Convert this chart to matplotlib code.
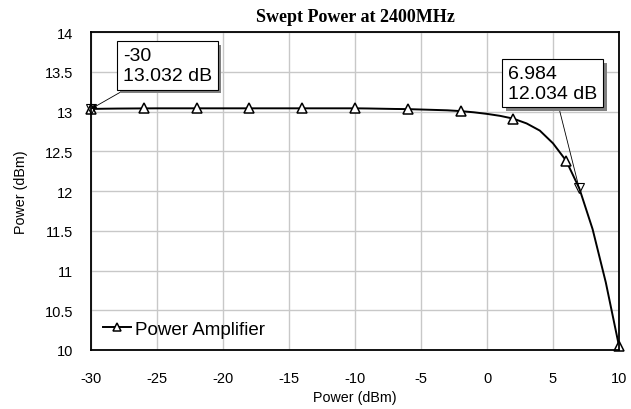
import matplotlib
matplotlib.use("Agg")
import matplotlib.pyplot as plt
import matplotlib.patheffects as pe

# curve samples (dBm input -> dBm output)
pin = [-30, -29, -28, -27, -26, -25, -24, -23, -22, -21, -20, -19, -18, -17, -16,
       -15, -14, -13, -12, -11, -10, -9, -8, -7, -6, -5, -4, -3, -2, -1,
       0, 1, 2, 3, 4, 5, 6, 7, 8, 9, 10]
pout = [13.032, 13.035, 13.037, 13.038, 13.039, 13.04, 13.04, 13.04, 13.04, 13.04, 13.04,
        13.04, 13.04, 13.04, 13.04, 13.04, 13.04, 13.04, 13.04, 13.04, 13.04, 13.038,
        13.035, 13.032, 13.03, 13.025, 13.02, 13.015, 13.005, 12.99, 12.97, 12.945,
        12.91, 12.85, 12.76, 12.6, 12.38, 12.03, 11.52, 10.85, 10.05]
marker_every = 4

m1_x, m1_y = -30, 13.032
m2_x, m2_y = 6.984, 12.034

xticks = [-30, -25, -20, -15, -10, -5, 0, 5, 10]
yticks = [10, 10.5, 11, 11.5, 12, 12.5, 13, 13.5, 14]

fig = plt.figure(figsize=(6.31, 4.10), dpi=100)
ax = fig.add_axes([91/631, 59/410, 528/631, 318/410])

ax.plot(pin, pout, color='black', lw=1.4, marker='^', markevery=marker_every,
        markersize=7.5, markerfacecolor='white', markeredgecolor='black',
        markeredgewidth=1.1, label='Power Amplifier', zorder=3, clip_on=False)
ax.plot([m1_x, m2_x], [m1_y, m2_y], linestyle='none', marker='v', markersize=7.5,
        markerfacecolor='none', markeredgecolor='black', markeredgewidth=0.8, zorder=4,
        clip_on=False)

ax.set_xlim(-30, 10)
ax.set_ylim(10, 14)
ax.set_xticks(xticks)
ax.set_yticks(yticks)
ax.set_xticklabels([str(v) for v in xticks])
ax.set_yticklabels([('%g' % v) for v in yticks])
ax.tick_params(length=0, labelsize=10.5)
ax.tick_params(axis='x', pad=15)
ax.tick_params(axis='y', pad=13)
for lab in ax.get_xticklabels() + ax.get_yticklabels():
    lab.set_family('Liberation Sans')
ax.grid(True, color='#c8c8c8', lw=1.0)
ax.set_axisbelow(True)
for s in ax.spines.values():
    s.set_color('black')
    s.set_linewidth(1.3)
    s.set_zorder(6)

ax.set_xlabel('Power (dBm)', family='Liberation Sans', fontsize=10.3, labelpad=4)
ax.set_ylabel('Power (dBm)', family='Liberation Sans', fontsize=10.3, labelpad=12)
ax.set_title('Swept Power at 2400MHz', family='Liberation Serif', fontweight='bold',
             fontsize=13, pad=8)

fs = 14
bbox = dict(boxstyle='square,pad=0.3', fc='white', ec='black', lw=0.8)

def marker_label(txt, tx, ty, px, py, arrow):
    an = ax.annotate(txt, xy=(px, py), xytext=(tx, ty), fontsize=fs,
                     family='Liberation Sans', ha='left', va='top', linespacing=1.2,
                     bbox=bbox,
                     arrowprops=dict(arrowstyle=arrow, color='black', lw=0.6,
                                     mutation_scale=8, shrinkA=0, shrinkB=0),
                     zorder=5, annotation_clip=False)
    an.get_bbox_patch().set_path_effects(
        [pe.SimplePatchShadow(offset=(2.5, -2.5), shadow_rgbFace='#808080', alpha=1.0),
         pe.Normal()])
    return an

marker_label('%g\n%.3f dB' % (m1_x, m1_y), -27.6, 13.81, m1_x, m1_y, '-|>')
marker_label('%.3f\n%.3f dB' % (m2_x, m2_y), 1.6, 13.585, m2_x, m2_y, '-')

leg = ax.legend(loc='lower left', frameon=False, prop={'family': 'Liberation Sans', 'size': 13.5},
                handlelength=1.5, handletextpad=0.2, borderaxespad=0.25, markerscale=0.7)

fig.savefig('out.png', dpi=100)
